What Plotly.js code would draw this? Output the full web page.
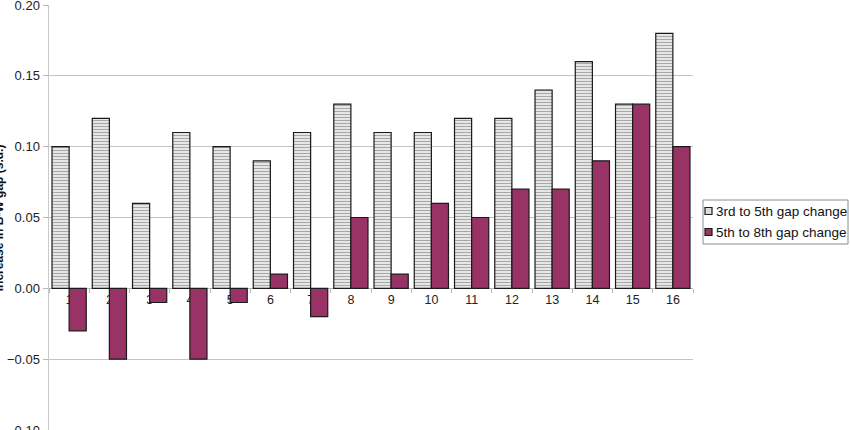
<!DOCTYPE html>
<html>
<head>
<meta charset="utf-8">
<script src="https://cdn.plot.ly/plotly-3.0.1.min.js"></script>
<style>
  html, body { margin: 0; padding: 0; background: #fff; }
  #chart { width: 851px; height: 430px; }
</style>
</head>
<body>
<div id="chart"></div>
<script>
// grade pairs 1..16
const categories = ['1', '2', '3', '4', '5', '6', '7', '8', '9', '10', '11', '12', '13', '14', '15', '16'];
const gap3to5 = [0.10, 0.12, 0.06, 0.11, 0.10, 0.09, 0.11, 0.13, 0.11, 0.11, 0.12, 0.12, 0.14, 0.16, 0.13, 0.18];
const gap5to8 = [-0.03, -0.05, -0.01, -0.05, -0.01, 0.01, -0.02, 0.05, 0.01, 0.06, 0.05, 0.07, 0.07, 0.09, 0.13, 0.10];
const yTicks = [-0.10, -0.05, 0.00, 0.05, 0.10, 0.15, 0.20];
const seriesNames = ['3rd to 5th gap change', '5th to 8th gap change'];

const FONT = 'Liberation Sans, Arial, sans-serif';
const PLUM = '#993366';

// plot box in pixels, used to place the hand-drawn legend
const W = 851, H = 430;
const M = { l: 49, r: 158, t: 5, b: 0 };
const px = (x) => (x - M.l) / (W - M.l - M.r);
const py = (y) => (H - M.b - y) / (H - M.t - M.b);

const traces = [
  {
    type: 'bar',
    name: seriesNames[0],
    x: categories,
    y: gap3to5,
    marker: {
      color: '#ffffff',
      line: { color: '#1a1a1a', width: 1.2 },
      pattern: { shape: '-', fgcolor: '#a8a8a8', bgcolor: '#f4f4f4', size: 3, solidity: 0.45 }
    },
    hoverinfo: 'x+y'
  },
  {
    type: 'bar',
    name: seriesNames[1],
    x: categories,
    y: gap5to8,
    marker: {
      color: PLUM,
      line: { color: '#1a1a1a', width: 1.2 }
    },
    hoverinfo: 'x+y'
  }
];

// legend box (Excel style, compact swatches)
const legendShapes = [
  { type: 'rect', xref: 'paper', yref: 'paper', x0: px(703), x1: px(848), y0: py(244), y1: py(200),
    line: { color: '#8c8c8c', width: 1 }, fillcolor: '#ffffff' },
  { type: 'rect', xref: 'paper', yref: 'paper', x0: px(705), x1: px(712), y0: py(214.5), y1: py(207.5),
    line: { color: '#1a1a1a', width: 1.2 }, fillcolor: '#dcdcdc' },
  { type: 'rect', xref: 'paper', yref: 'paper', x0: px(705), x1: px(712), y0: py(235.5), y1: py(228.5),
    line: { color: '#1a1a1a', width: 1.2 }, fillcolor: PLUM }
];

const legendLabels = seriesNames.map((name, i) => ({
  text: name,
  xref: 'paper', yref: 'paper',
  x: px(714), y: py(i === 0 ? 211 : 232),
  xanchor: 'left', yanchor: 'middle',
  showarrow: false,
  font: { family: FONT, size: 13.5, color: '#111' }
}));

const layout = {
  width: W,
  height: H,
  margin: { l: M.l, r: M.r, t: M.t, b: M.b, autoexpand: false },
  paper_bgcolor: '#ffffff',
  plot_bgcolor: '#ffffff',
  font: { family: FONT, size: 13, color: '#222' },
  barmode: 'group',
  bargap: 0.15,
  bargroupgap: 0,
  showlegend: false,
  xaxis: {
    type: 'category',
    anchor: 'free',
    position: 1 / 3,
    showline: true,
    linecolor: '#b8b8b8',
    linewidth: 1,
    ticks: 'outside',
    tickson: 'boundaries',
    ticklen: 4,
    tickcolor: '#b8b8b8',
    showgrid: false,
    zeroline: false,
    layer: 'below traces',
    tickfont: { family: FONT, size: 12.5, color: '#222' },
    fixedrange: true
  },
  yaxis: {
    range: [-0.1, 0.2],
    tickvals: yTicks,
    tickformat: '.2f',
    ticks: 'outside',
    ticklen: 5,
    tickcolor: '#b8b8b8',
    ticklabeloverflow: 'allow',
    showline: true,
    linecolor: '#c8c8c8',
    linewidth: 1.5,
    showgrid: true,
    gridcolor: '#c4c4c4',
    gridwidth: 1,
    zeroline: false,
    tickfont: { family: FONT, size: 13, color: '#222' },
    fixedrange: true
  },
  shapes: legendShapes,
  annotations: [
    {
      text: '<b>Increase in B-W gap (s.d.)</b>',
      xref: 'paper', yref: 'paper',
      x: -0.078, y: 0.5,
      xanchor: 'center', yanchor: 'middle',
      textangle: -90,
      showarrow: false,
      font: { family: FONT, size: 12, color: '#111' }
    }
  ].concat(legendLabels)
};

Plotly.newPlot('chart', traces, layout, { displayModeBar: false, staticPlot: true });
</script>
</body>
</html>
